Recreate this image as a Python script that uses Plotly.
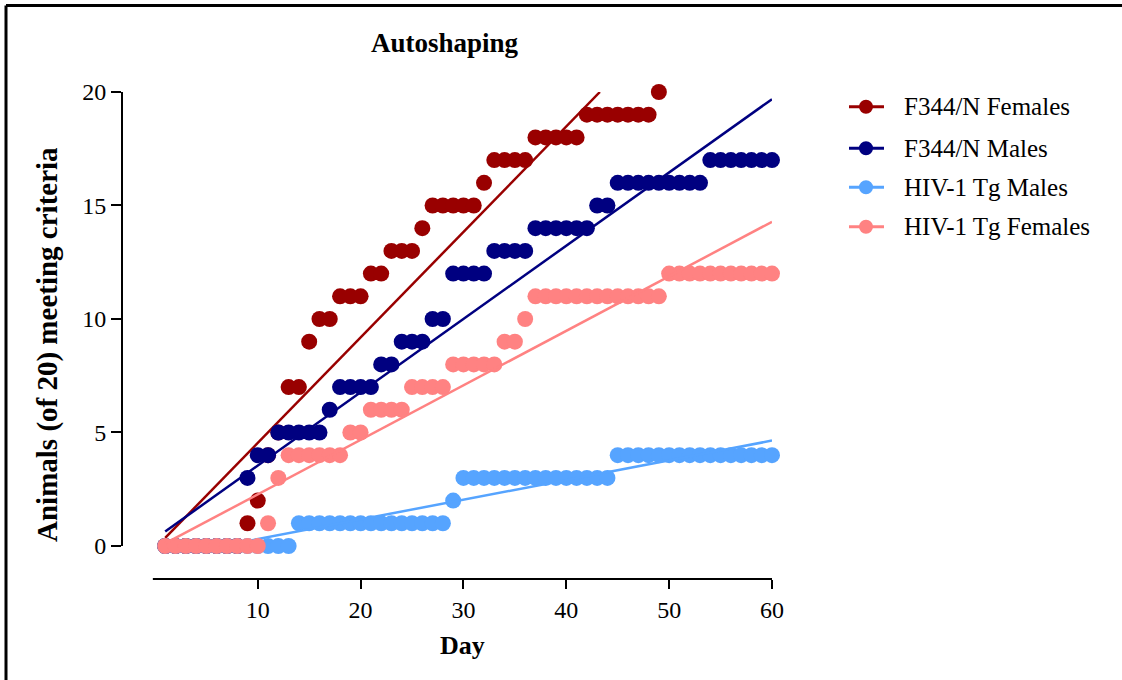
import numpy as np
import plotly.graph_objects as go

# ---------------- data ----------------
days_60 = list(range(1, 61))
days_49 = list(range(1, 50))

f344_females = [0, 0, 0, 0, 0, 0, 0, 0, 1, 2, 4, 5, 7, 7, 9, 10, 10, 11, 11, 11,
                12, 12, 13, 13, 13, 14, 15, 15, 15, 15, 15, 16, 17, 17, 17, 17,
                18, 18, 18, 18, 18, 19, 19, 19, 19, 19, 19, 19, 20]
f344_males = [0, 0, 0, 0, 0, 0, 0, 0, 3, 4, 4, 5, 5, 5, 5, 5, 6, 7, 7, 7,
              7, 8, 8, 9, 9, 9, 10, 10, 12, 12, 12, 12, 13, 13, 13, 13, 14, 14, 14, 14,
              14, 14, 15, 15, 16, 16, 16, 16, 16, 16, 16, 16, 16, 17, 17, 17, 17, 17, 17, 17]
hiv_males = [0, 0, 0, 0, 0, 0, 0, 0, 0, 0, 0, 0, 0, 1, 1, 1, 1, 1, 1, 1,
             1, 1, 1, 1, 1, 1, 1, 1, 2, 3, 3, 3, 3, 3, 3, 3, 3, 3, 3, 3,
             3, 3, 3, 3, 4, 4, 4, 4, 4, 4, 4, 4, 4, 4, 4, 4, 4, 4, 4, 4]
hiv_females = [0, 0, 0, 0, 0, 0, 0, 0, 0, 0, 1, 3, 4, 4, 4, 4, 4, 4, 5, 5,
               6, 6, 6, 6, 7, 7, 7, 7, 8, 8, 8, 8, 8, 9, 9, 10, 11, 11, 11, 11,
               11, 11, 11, 11, 11, 11, 11, 11, 11, 12, 12, 12, 12, 12, 12, 12, 12, 12, 12, 12]

series_names = ["F344/N Females", "F344/N Males", "HIV-1 Tg Males", "HIV-1 Tg Females"]
series_days = [days_49, days_60, days_60, days_60]
series_values = [f344_females, f344_males, hiv_males, hiv_females]
series_colors = ["#990000", "#000080", "#56A4FF", "#FF8282"]

# linear-fit lines (slope, intercept)
fit_slopes = [0.4648, 0.3228, 0.0868, 0.2402]
fit_intercepts = [-0.11, 0.317, -0.565, -0.13]

x_ticks = [10, 20, 30, 40, 50, 60]
y_ticks = [0, 5, 10, 15, 20]

# ---------------- layout helpers ----------------
W, H = 1122, 680
L, R, T, B = 122, 772, 92, 579          # plot area in pixels
def PX(px):
    return (px - L) / (R - L)
def PY(py):
    return (B - py) / (B - T)

FONT = "Liberation Serif"

fig = go.Figure()

for name, dx, vals, col, m, b in zip(series_names, series_days, series_values,
                                      series_colors, fit_slopes, fit_intercepts):
    fig.add_trace(go.Scatter(x=dx, y=vals, mode="markers", name=name,
                             marker=dict(size=16, color=col, line=dict(width=0)),
                             cliponaxis=False, showlegend=False))
    xs0 = max(1.0, (0 - b) / m)
    xs1 = min(60.0, (20 - b) / m)
    xl = np.array([xs0, xs1])
    fig.add_trace(go.Scatter(x=xl, y=m * xl + b, mode="lines", name=name + " fit",
                             line=dict(color=col, width=2.5),
                             cliponaxis=False, showlegend=False))

shapes = [
    # y axis line (0..20)
    dict(type="line", xref="paper", yref="y", x0=0, x1=0, y0=0, y1=20,
         line=dict(color="black", width=2)),
    # x axis line (0..60)
    dict(type="line", xref="x", yref="paper", x0=-0.2, x1=60, y0=0, y1=0,
         line=dict(color="black", width=2)),
    # frame border (top and left)
    dict(type="line", xref="paper", yref="paper", x0=PX(6), x1=PX(1125),
         y0=PY(5.5), y1=PY(5.5), line=dict(color="black", width=3)),
    dict(type="line", xref="paper", yref="paper", x0=PX(6), x1=PX(6),
         y0=PY(5.5), y1=PY(685), line=dict(color="black", width=3)),
]

annotations = [
    dict(text="<b>Autoshaping</b>", xref="paper", yref="paper", x=PX(445), y=PY(43),
         xanchor="center", yanchor="middle", showarrow=False,
         font=dict(family=FONT, size=27, color="black")),
    dict(text="<b>Day</b>", xref="paper", yref="paper", x=PX(462), y=PY(645),
         xanchor="center", yanchor="middle", showarrow=False,
         font=dict(family=FONT, size=26, color="black")),
    dict(text="<b>Animals (of 20) meeting criteria</b>", xref="paper", yref="paper",
         x=PX(47), y=PY(345), xanchor="center", yanchor="middle", textangle=-90,
         showarrow=False, font=dict(family=FONT, size=29, color="black")),
]

# legend (drawn manually: line + circle symbol and text)
leg_y = [106.7, 148.3, 187.3, 226.7]
leg_cx, leg_line0, leg_line1, leg_text_x, leg_r = 866, 849, 884, 902, 7
for name, col, yy in zip(series_names, series_colors, leg_y):
    shapes.append(dict(type="line", xref="paper", yref="paper",
                       x0=PX(leg_line0), x1=PX(leg_line1), y0=PY(yy), y1=PY(yy),
                       line=dict(color=col, width=3)))
    shapes.append(dict(type="circle", xref="paper", yref="paper",
                       x0=PX(leg_cx - leg_r), x1=PX(leg_cx + leg_r),
                       y0=PY(yy + leg_r), y1=PY(yy - leg_r),
                       fillcolor=col, line=dict(color=col, width=0)))
    annotations.append(dict(text=name, xref="paper", yref="paper",
                            x=PX(leg_text_x), y=PY(yy), xanchor="left", yanchor="middle",
                            showarrow=False,
                            font=dict(family=FONT, size=25, color="black")))

fig.update_layout(
    width=W, height=H,
    margin=dict(l=L, r=W - R, t=T, b=H - B, pad=0),
    paper_bgcolor="white", plot_bgcolor="white",
    font=dict(family=FONT, color="black"),
    xaxis=dict(range=[-3.2, 60], tickvals=x_ticks, ticks="outside", ticklen=9,
               tickwidth=2, tickcolor="black", showline=False, showgrid=False,
               zeroline=False, tickfont=dict(family=FONT, size=24, color="black")),
    yaxis=dict(range=[-1.455, 20], tickvals=y_ticks, ticks="outside", ticklen=10,
               tickwidth=2, tickcolor="black", showline=False, showgrid=False,
               zeroline=False, tickfont=dict(family=FONT, size=24, color="black")),
    showlegend=False,
    shapes=shapes, annotations=annotations,
)

fig.write_html("out.html")
